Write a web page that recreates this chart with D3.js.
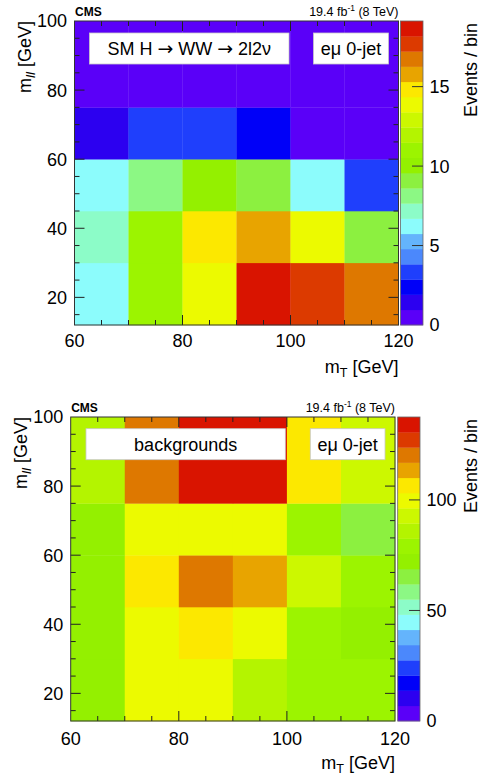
<!DOCTYPE html>
<html>
<head>
<meta charset="utf-8">
<script src="https://cdn.jsdelivr.net/npm/d3@7"></script>
<style>
  html, body { margin: 0; padding: 0; background: #fff; }
  svg { display: block; }
  text { font-family: Helvetica, Arial, "Liberation Sans", sans-serif; fill: #000; }
</style>
</head>
<body>
<svg id="chart" width="483" height="778"></svg>
<script>
// ---------- data ----------
const mtBins  = [60, 70, 80, 90, 100, 110, 120];   // m_T bin edges [GeV]
const mllBins = [12, 30, 45, 60, 75, 100];         // m_ll bin edges [GeV]

// rows: m_ll bins from bottom (12-30) to top (75-100); columns: m_T bins
const signalValues = [
  [6.10, 11.10, 13.75, 19.13, 17.70, 16.70],
  [7.20, 11.00, 14.80, 15.80, 13.90,  9.05],
  [6.20,  8.10, 10.05,  9.10,  6.25,  3.40],
  [1.45,  3.30,  3.35,  2.40,  0.80,  0.65],
  [0.42,  0.55,  0.61,  0.48,  0.35,  0.30]
];
const backgroundValues = [
  [72.8,  99.5,  98.9,  86.3, 78.2, 77.5],
  [72.0, 100.9, 107.3, 100.2, 79.8, 73.5],
  [73.1, 106.2, 121.8, 113.9, 92.6, 79.4],
  [72.4,  99.2, 100.4,  99.8, 78.6, 65.7],
  [86.5, 121.0, 137.5, 135.2, 105.8, 92.1]
];
const signalZMax = 19.13;
const backgroundZMax = 137.5;

const xTickLabels = [60, 80, 100, 120];
const yTickLabels = [20, 40, 60, 80, 100];
const signalZTicks = [0, 5, 10, 15];
const backgroundZTicks = [0, 50, 100];

const signalLegend = ["SM H ", "\u2192", " WW ", "\u2192", " 2l2\u03BD"];
const backgroundLegend = ["backgrounds"];
const channelLegend = ["e\u03BC 0-jet"];

// 20-colour palette, low -> high
const palette = ["#5a00f8","#2c00f0","#0000f8","#1f3ffc","#4b88fc","#64b4fc",
                 "#8cfcfc","#8cfcc8","#8cf884","#8cf040","#94f000","#9cf400",
                 "#b4f400","#ccf800","#ecfa00","#fce800","#e8a400","#de7800",
                 "#dc3a00","#d91400"];

// ---------- drawing ----------
const svg = d3.select("#chart");
const FS = 18;

function drawPanel(cfg) {
  const g = svg.append("g");
  const x = d3.scaleLinear().domain([60, 120]).range([cfg.x0, cfg.x1]);
  const y = d3.scaleLinear().domain([12, 100]).range([cfg.y1, cfg.y0]);
  const color = d3.scaleQuantize().domain([0, cfg.zmax]).range(palette);

  // cells
  const cells = [];
  cfg.values.forEach((row, i) => row.forEach((v, j) => cells.push({i, j, v})));
  g.append("g").selectAll("rect").data(cells).join("rect")
    .attr("x", d => x(mtBins[d.j]))
    .attr("y", d => y(mllBins[d.i + 1]))
    .attr("width", d => x(mtBins[d.j + 1]) - x(mtBins[d.j]) + 0.3)
    .attr("height", d => y(mllBins[d.i]) - y(mllBins[d.i + 1]) + 0.3)
    .attr("fill", d => color(d.v));

  // ticks (inward, all four sides)
  const tk = g.append("g").attr("stroke", "#222").attr("stroke-width", 1);
  d3.range(65, 120, 5).forEach(v => {
    const len = (v % 20 === 0) ? 10 : 5;
    tk.append("line").attr("x1", x(v)).attr("x2", x(v)).attr("y1", cfg.y1).attr("y2", cfg.y1 - len);
    tk.append("line").attr("x1", x(v)).attr("x2", x(v)).attr("y1", cfg.y0).attr("y2", cfg.y0 + len);
  });
  d3.range(15, 100, 5).forEach(v => {
    const len = (v % 20 === 0) ? 10 : 5;
    tk.append("line").attr("y1", y(v)).attr("y2", y(v)).attr("x1", cfg.x0).attr("x2", cfg.x0 + len);
    tk.append("line").attr("y1", y(v)).attr("y2", y(v)).attr("x1", cfg.x1).attr("x2", cfg.x1 - len);
  });

  // frame
  g.append("rect").attr("x", cfg.x0).attr("y", cfg.y0)
    .attr("width", cfg.x1 - cfg.x0).attr("height", cfg.y1 - cfg.y0)
    .attr("fill", "none").attr("stroke", "#333").attr("stroke-width", 1);

  // x tick labels
  g.append("g").selectAll("text").data(xTickLabels).join("text")
    .attr("x", d => x(d)).attr("y", cfg.xLabY)
    .attr("text-anchor", "middle").attr("font-size", FS).text(d => d);
  // y tick labels
  g.append("g").selectAll("text").data(yTickLabels).join("text")
    .attr("x", cfg.x0 - 7.5).attr("y", d => y(d) + FS * 0.36)
    .attr("text-anchor", "end").attr("font-size", FS).text(d => d);

  // x title
  const xt = g.append("text").attr("x", cfg.x1).attr("y", cfg.xTitleY)
    .attr("text-anchor", "end").attr("font-size", FS);
  xt.append("tspan").text("m");
  xt.append("tspan").attr("font-size", FS * 0.7).attr("dy", 4).text("T");
  xt.append("tspan").attr("dy", -4).text(" [GeV]");

  // y title
  const yt = g.append("text")
    .attr("transform", `translate(${cfg.yTitleX},${cfg.y0}) rotate(-90)`)
    .attr("text-anchor", "end").attr("font-size", FS);
  yt.append("tspan").text("m");
  yt.append("tspan").attr("font-size", FS * 0.75).attr("font-style", "italic").attr("dy", 4).text("ll");
  yt.append("tspan").attr("dy", -4).text(" [GeV]");

  // header
  g.append("text").attr("x", cfg.x0 + 0.5).attr("y", cfg.y0 - 5)
    .attr("font-size", 12).attr("font-weight", "bold").text("CMS");
  const lum = g.append("text").attr("x", cfg.x1).attr("y", cfg.y0 - 5)
    .attr("text-anchor", "end").attr("font-size", 12.5);
  lum.append("tspan").text("19.4 fb");
  lum.append("tspan").attr("font-size", 8.5).attr("dy", -5).text("-1");
  lum.append("tspan").attr("dy", 5).text(" (8 TeV)");

  // legend boxes
  cfg.boxes.forEach(b => {
    g.append("rect").attr("x", b.x).attr("y", b.y).attr("width", b.w).attr("height", b.h)
      .attr("fill", "#fff").attr("stroke", "#c8c8c8").attr("stroke-width", 0.8);
    const t = g.append("text").attr("x", b.x + b.w / 2).attr("y", b.y + b.h / 2 + FS * 0.36)
      .attr("text-anchor", "middle").attr("font-size", FS);
    b.text.forEach(part => {
      const s = t.append("tspan").text(part);
      if (part === "\u2192") s.attr("font-family", "'DejaVu Sans', sans-serif").attr("font-size", FS * 1.05);
    });
  });

  // colour bar
  const z = d3.scaleLinear().domain([0, cfg.zmax]).range([cfg.y1, cfg.y0]);
  const step = cfg.zmax / palette.length;
  g.append("g").selectAll("rect").data(palette).join("rect")
    .attr("x", cfg.cbX0).attr("width", cfg.cbX1 - cfg.cbX0)
    .attr("y", (c, k) => z((k + 1) * step))
    .attr("height", (c, k) => z(k * step) - z((k + 1) * step) + 0.3)
    .attr("fill", c => c);
  g.append("rect").attr("x", cfg.cbX0).attr("y", cfg.y0)
    .attr("width", cfg.cbX1 - cfg.cbX0).attr("height", cfg.y1 - cfg.y0)
    .attr("fill", "none").attr("stroke", "#666").attr("stroke-width", 0.8);
  g.append("g").selectAll("line").data(cfg.zTicks.filter(t => t > 0)).join("line")
    .attr("x1", cfg.cbX1 - 11).attr("x2", cfg.cbX1)
    .attr("y1", d => z(d)).attr("y2", d => z(d))
    .attr("stroke", "#333").attr("stroke-width", 1);
  g.append("g").selectAll("text").data(cfg.zTicks).join("text")
    .attr("x", cfg.cbX1 + 6.5).attr("y", d => z(d) + FS * 0.36)
    .attr("font-size", FS).text(d => d);
  g.append("text")
    .attr("transform", `translate(${cfg.zTitleX},${cfg.y0 + 2}) rotate(-90)`)
    .attr("text-anchor", "end").attr("font-size", FS).text("Events / bin");
}

drawPanel({
  x0: 74.5, x1: 398.5, y0: 21, y1: 325,
  cbX0: 400.5, cbX1: 423,
  values: signalValues, zmax: signalZMax, zTicks: signalZTicks,
  xLabY: 346.5, xTitleY: 373, yTitleX: 31, zTitleX: 476.5,
  boxes: [
    {x: 89.5, y: 33, w: 199.5, h: 31, text: signalLegend},
    {x: 313.5, y: 33, w: 75, h: 31, text: channelLegend}
  ]
});

drawPanel({
  x0: 70.7, x1: 395, y0: 417, y1: 721,
  cbX0: 397.7, cbX1: 420,
  values: backgroundValues, zmax: backgroundZMax, zTicks: backgroundZTicks,
  xLabY: 745, xTitleY: 769, yTitleX: 27, zTitleX: 476.5,
  boxes: [
    {x: 86, y: 428.7, w: 199.3, h: 31, text: backgroundLegend},
    {x: 310.3, y: 428.7, w: 74.7, h: 31, text: channelLegend}
  ]
});
</script>
</body>
</html>
